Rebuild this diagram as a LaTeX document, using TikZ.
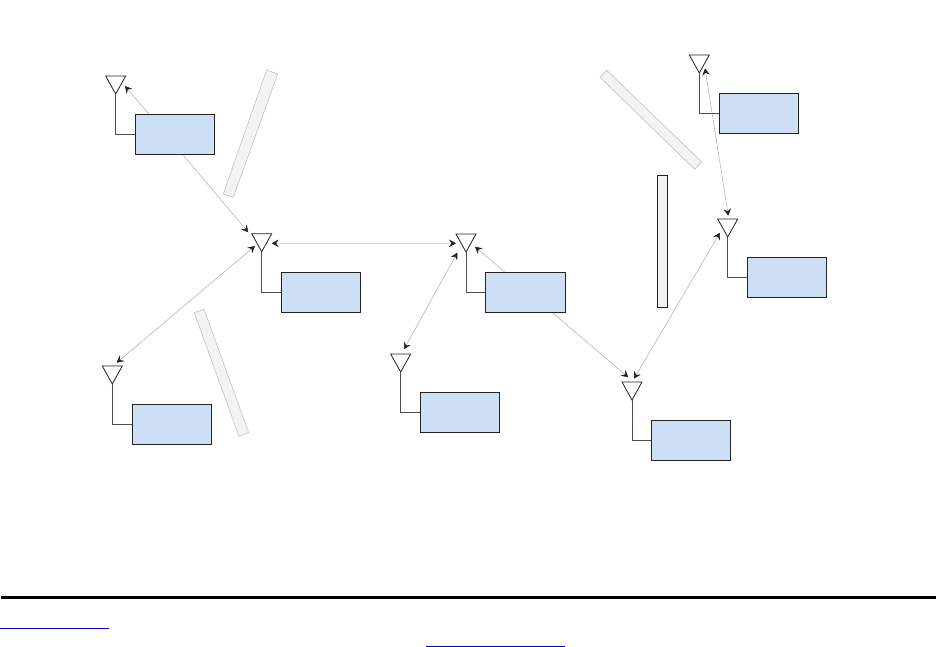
\documentclass[tikz,border=0pt]{standalone}
\usetikzlibrary{arrows.meta}
\definecolor{boxblue}{HTML}{CCDFF4}
\definecolor{wallfill}{HTML}{F3F3F3}
\definecolor{inkdark}{HTML}{222222}
\tikzset{
  x=1pt,y=-1pt,
  radio/.style={draw=inkdark,fill=boxblue,line width=0.8pt,minimum width=79.2pt,minimum height=40pt,inner sep=0pt,outer sep=0pt,anchor=north west},
  ant/.style={draw=inkdark,line width=0.8pt,line join=miter,fill=white},
  feed/.style={draw=inkdark!80,line width=0.8pt},
  wall/.style={draw=black!25,fill=wallfill,line width=0.55pt},
  wallv/.style={draw=inkdark,fill=wallfill,line width=0.7pt},
  link/.style={draw=black!35,line width=0.45pt,{Stealth[length=7pt,width=7.5pt,inset=2.6pt,color=inkdark]}-{Stealth[length=7pt,width=7.5pt,inset=2.6pt,color=inkdark]}},
  linkpale/.style={link,draw=black!15},
}
\newcommand{\antennaAt}[3]{%
  \coordinate (#1) at (#2,#3);
  \draw[ant] (#2-10,#3-18) -- (#2+10,#3-18) -- (#2,#3) -- cycle;}
\begin{document}
\begin{tikzpicture}
\useasboundingbox (0,0) rectangle (936,647);
\fill[white] (0,0) rectangle (936,647);

% walls
\draw[wall] (266.7,70) -- (277.7,74) -- (233.3,197.3) -- (223.3,194) -- cycle;
\draw[wall] (194.3,312.7) -- (204,309.3) -- (248.7,432.7) -- (239,436.3) -- cycle;
\draw[wall] (606.7,70.3) -- (600,77.3) -- (694.7,169.3) -- (701.7,162) -- cycle;
\draw[wallv] (657.7,175.3) rectangle (667.3,307.3);

% free ends of the links (just clear of the antennas)
\coordinate (a1) at (125,86);    \coordinate (b1) at (248.3,232.3);
\coordinate (b2) at (271.7,243.3); \coordinate (d1) at (456,243.3);
\coordinate (b3) at (255,246);   \coordinate (c1) at (116.7,362.7);
\coordinate (d2) at (457.3,252.7); \coordinate (e1) at (404,349.3);
\coordinate (d3) at (475,246.7); \coordinate (f1) at (628.3,377.3);
\coordinate (f2) at (634,378.7); \coordinate (h1) at (720,232.7);
\coordinate (g1) at (705,68.3);  \coordinate (h2) at (728.3,215.7);

% links
\draw[link] (a1) -- (b1);
\draw[linkpale] (b2) -- (d1);
\draw[link] (b3) -- (c1);
\draw[link] (d2) -- (e1);
\draw[link] (d3) -- (f1);
\draw[link] (f2) -- (h1);
\draw[link] (g1) -- (h2);

% radios
\node[radio] (ra) at (135.3,114.3) {};
\node[radio] (rb) at (281.3,272.3) {};
\node[radio] (rc) at (132.3,404.3) {};
\node[radio,minimum width=80pt] (rd) at (485.3,272.3) {};
\node[radio] (re) at (420.3,392.3) {};
\node[radio] (rf) at (651.3,420.3) {};
\node[radio] (rg) at (719.3,93.3) {};
\node[radio] (rh) at (747.3,257.3) {};

% antennas
\antennaAt{aa}{115.7}{94}
\antennaAt{ab}{261.7}{251.7}
\antennaAt{ac}{112.3}{384}
\antennaAt{ad}{466}{252}
\antennaAt{ae}{400.7}{372}
\antennaAt{af}{632}{400}
\antennaAt{ag}{699.3}{73}
\antennaAt{ah}{727.7}{237}

% feeds
\draw[feed] (aa) |- (ra.west);
\draw[feed] (ab) |- (rb.west);
\draw[feed] (ac) |- (rc.west);
\draw[feed] (ad) |- (rd.west);
\draw[feed] (ae) |- (re.west);
\draw[feed] (af) |- (rf.west);
\draw[feed] (ag) |- (rg.west);
\draw[feed] (ah) |- (rh.west);

% footer rule and link underlines
\draw[black,line width=3pt] (1,597.3) -- (936,597.3);
\draw[blue!80!black,line width=1pt] (0,628.3) -- (109,628.3);
\draw[blue!80!black,line width=1pt] (426,646.3) -- (565,646.3);
\end{tikzpicture}
\end{document}
